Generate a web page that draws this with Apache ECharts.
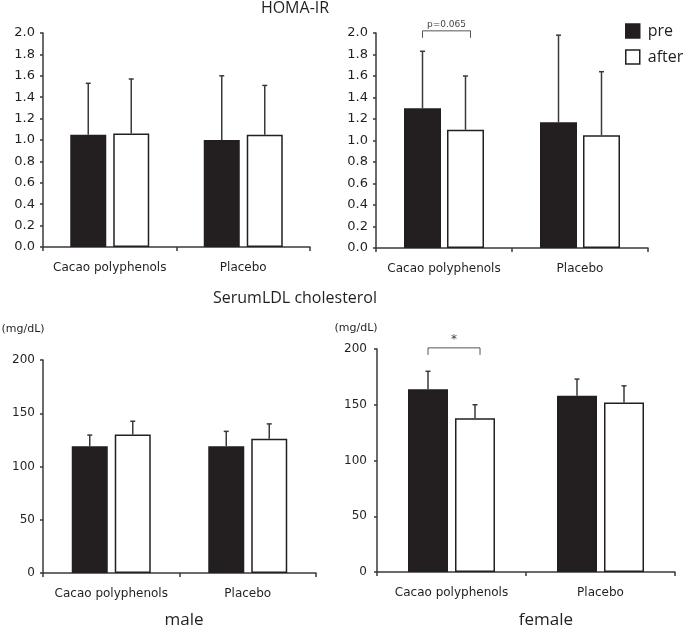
<!DOCTYPE html>
<html>
<head>
<meta charset="utf-8">
<script src="https://cdn.jsdelivr.net/npm/echarts@6/dist/echarts.min.js"></script>
<style>html,body{margin:0;padding:0;background:#fff}#c{width:685px;height:629px}</style>
</head>
<body>
<div id="c"></div>
<script>
// ---- data ----
const categories = ['Cacao polyphenols', 'Placebo'];
const seriesNames = ['pre', 'after'];

const homaMalePre = [1.05, 1.00];
const homaMalePreSD = [0.48, 0.60];
const homaMaleAfter = [1.06, 1.05];
const homaMaleAfterSD = [0.51, 0.46];

const homaFemalePre = [1.30, 1.17];
const homaFemalePreSD = [0.53, 0.81];
const homaFemaleAfter = [1.10, 1.05];
const homaFemaleAfterSD = [0.50, 0.59];

const ldlMalePre = [119, 119];
const ldlMalePreSD = [10.5, 14];
const ldlMaleAfter = [130, 126];
const ldlMaleAfterSD = [12.5, 14];

const ldlFemalePre = [164, 158];
const ldlFemalePreSD = [16, 15];
const ldlFemaleAfter = [138, 152];
const ldlFemaleAfterSD = [12, 15];

const homaTicks = [0, 2, 0.2];   // min, max, interval
const ldlTicks = [0, 200, 50];

const homaBracket = {cat: 0, level: 2.02, label: 'p=0.065'};
const ldlBracket = {cat: 0, level: 201, label: '*'};

// ---- styling ----
const DARK = '#231f20';
const AXIS = '#3a3a3a';
const AX_FONT = 'DejaVu Sans';
const TITLE_FONT = 'Open Sans';

const panels = [
  {grid: {left: 43, top: 33, width: 267, height: 214}, bw: 36, gapPx: 7, ticks: homaTicks, fmt: v => v.toFixed(1), fs: 13, lm: 8,
   pre: homaMalePre, preSD: homaMalePreSD, after: homaMaleAfter, afterSD: homaMaleAfterSD},
  {grid: {left: 376, top: 33, width: 272, height: 215}, bw: 37, gapPx: 6, ticks: homaTicks, fmt: v => v.toFixed(1), fs: 13, lm: 8,
   pre: homaFemalePre, preSD: homaFemalePreSD, after: homaFemaleAfter, afterSD: homaFemaleAfterSD, bracket: homaBracket, bfs: 9},
  {grid: {left: 43, top: 360, width: 273, height: 213}, bw: 36, gapPx: 7, ticks: ldlTicks, fmt: v => String(v), fs: 12, lm: 8,
   pre: ldlMalePre, preSD: ldlMalePreSD, after: ldlMaleAfter, afterSD: ldlMaleAfterSD},
  {grid: {left: 377, top: 349, width: 298, height: 223}, bw: 40, gapPx: 7, ticks: ldlTicks, fmt: v => String(v), fs: 12, lm: 10,
   pre: ldlFemalePre, preSD: ldlFemalePreSD, after: ldlFemaleAfter, afterSD: ldlFemaleAfterSD, bracket: ldlBracket, bfs: 12}
];

const grids = [], xAxes = [], yAxes = [], series = [];

panels.forEach((p, i) => {
  grids.push(Object.assign({containLabel: false}, p.grid));
  xAxes.push({
    type: 'category', gridIndex: i, data: categories,
    axisLine: {lineStyle: {color: AXIS, width: 1.5}},
    axisTick: {show: true, length: 4, lineStyle: {color: AXIS, width: 1.5}},
    axisLabel: {color: DARK, fontFamily: AX_FONT, fontSize: 12, margin: 15, interval: 0, hideOverlap: false}
  });
  yAxes.push({
    type: 'value', gridIndex: i, min: p.ticks[0], max: p.ticks[1], interval: p.ticks[2],
    splitLine: {show: false},
    axisLine: {show: true, lineStyle: {color: AXIS, width: 1.5}},
    axisTick: {show: true, length: 3, lineStyle: {color: AXIS, width: 1.5}},
    axisLabel: {color: DARK, fontFamily: AX_FONT, fontSize: p.fs, margin: p.lm, formatter: p.fmt}
  });
  const gapPct = (p.gapPx / p.bw * 100).toFixed(1) + '%';
  series.push({
    name: 'pre', type: 'bar', xAxisIndex: i, yAxisIndex: i, data: p.pre,
    barWidth: p.bw, barGap: gapPct,
    itemStyle: {color: DARK, borderColor: DARK, borderWidth: 1.5}
  });
  series.push({
    name: 'after', type: 'bar', xAxisIndex: i, yAxisIndex: i, data: p.after,
    barWidth: p.bw, barGap: gapPct,
    itemStyle: {color: '#ffffff', borderColor: DARK, borderWidth: 1.5}
  });
  const off = (p.bw + p.gapPx) / 2;
  const errData = [];
  p.pre.forEach((v, k) => errData.push([k, v, p.preSD[k], -1]));
  p.after.forEach((v, k) => errData.push([k, v, p.afterSD[k], 1]));
  series.push({
    type: 'custom', xAxisIndex: i, yAxisIndex: i, data: errData, z: 1, clip: false,
    encode: {x: 0, y: 1},
    renderItem: function (params, api) {
      const c = api.value(0), m = api.value(1), sd = api.value(2), side = api.value(3);
      const base = api.coord([c, m]);
      const top = api.coord([c, m + sd]);
      const x = base[0] + side * off;
      return {
        type: 'group',
        children: [
          {type: 'line', shape: {x1: x, y1: base[1], x2: x, y2: top[1]}, style: {stroke: AXIS, lineWidth: 1.5}},
          {type: 'line', shape: {x1: x - 2.5, y1: top[1], x2: x + 2.5, y2: top[1]}, style: {stroke: AXIS, lineWidth: 1.5}}
        ]
      };
    }
  });
  if (p.bracket) {
    const b = p.bracket, fs = p.bfs;
    series.push({
      type: 'custom', xAxisIndex: i, yAxisIndex: i, data: [[b.cat, b.level]], clip: false, z: 3,
      encode: {x: 0, y: 1}, silent: true,
      renderItem: function (params, api) {
        const pt = api.coord([api.value(0), api.value(1)]);
        const x1 = pt[0] - off, x2 = pt[0] + off + 5, y = pt[1];
        return {
          type: 'group',
          children: [
            {type: 'polyline', shape: {points: [[x1, y + 7], [x1, y], [x2, y], [x2, y + 7]]}, style: {stroke: '#555', lineWidth: 1, fill: null}},
            {type: 'text', style: {text: b.label, x: (x1 + x2) / 2, y: y - 2, textAlign: 'center', textVerticalAlign: 'bottom', font: fs + 'px ' + AX_FONT, fill: '#444'}}
          ]
        };
      }
    });
  }
});

const chart = echarts.init(document.getElementById('c'), null, {renderer: 'canvas'});
chart.setOption({
  animation: false,
  backgroundColor: '#fff',
  grid: grids,
  xAxis: xAxes,
  yAxis: yAxes,
  legend: {
    orient: 'vertical', left: 625, top: 23, padding: 0, itemWidth: 14, itemHeight: 14, itemGap: 10,
    data: [
      {name: 'pre', icon: 'rect', itemStyle: {color: DARK, borderColor: DARK, borderWidth: 1.5}},
      {name: 'after', icon: 'rect', itemStyle: {color: '#fff', borderColor: DARK, borderWidth: 1.5}}
    ],
    textStyle: {color: DARK, fontFamily: TITLE_FONT, fontSize: 16, padding: [0, 0, 0, 3]}
  },
  graphic: [
    {type: 'text', x: 295, y: 8, style: {text: 'HOMA-IR', textAlign: 'center', textVerticalAlign: 'middle', font: '16px "Open Sans"', fill: DARK}},
    {type: 'text', x: 295, y: 298, style: {text: 'SerumLDL cholesterol', textAlign: 'center', textVerticalAlign: 'middle', font: '16px "Open Sans"', fill: DARK}},
    {type: 'text', x: 23, y: 329, style: {text: '(mg/dL)', textAlign: 'center', textVerticalAlign: 'middle', font: '11px "DejaVu Sans"', fill: DARK}},
    {type: 'text', x: 356, y: 328, style: {text: '(mg/dL)', textAlign: 'center', textVerticalAlign: 'middle', font: '11px "DejaVu Sans"', fill: DARK}},
    {type: 'text', x: 184, y: 620, style: {text: 'male', textAlign: 'center', textVerticalAlign: 'middle', font: '17px "Open Sans"', fill: DARK}},
    {type: 'text', x: 546, y: 620, style: {text: 'female', textAlign: 'center', textVerticalAlign: 'middle', font: '17px "Open Sans"', fill: DARK}}
  ],
  series: series
});
</script>
</body>
</html>
